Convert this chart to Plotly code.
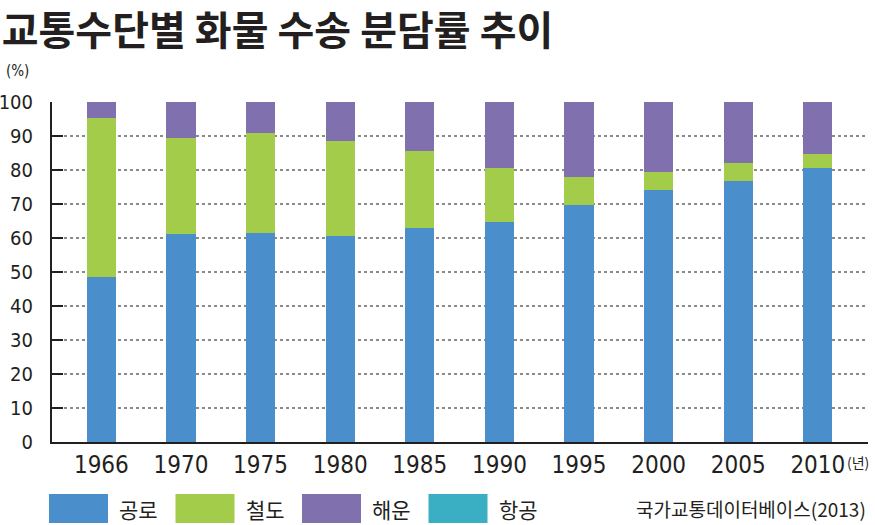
import plotly.graph_objects as go

# 연도별 화물 수송 분담률 (%)
years = ["1966", "1970", "1975", "1980", "1985", "1990", "1995", "2000", "2005", "2010"]
road = [48.5, 61.1, 61.4, 60.7, 62.8, 64.6, 69.8, 74.1, 76.8, 80.6]
rail = [46.7, 28.4, 29.6, 27.8, 22.7, 15.9, 8.2, 5.3, 5.4, 4.0]
sea = [4.8, 10.5, 9.0, 11.5, 14.5, 19.5, 22.0, 20.6, 17.8, 15.4]
air = [0.0, 0.0, 0.0, 0.0, 0.0, 0.0, 0.0, 0.0, 0.0, 0.0]  # 그림상 보이지 않을 만큼 작음

names = ["공로", "철도", "해운", "항공"]
colors = ["#4a8fcc", "#a3cc4b", "#8070ae", "#3aafc4"]
series = [road, rail, sea, air]

num_font = "DejaVu Sans Condensed, Liberation Sans Narrow, Liberation Sans, sans-serif"
kr_font = "Noto Sans CJK KR"
ink = "#231f20"

fig = go.Figure()
for name, vals, col in zip(names, series, colors):
    fig.add_trace(go.Bar(x=years, y=vals, name=name, marker_color=col,
                         marker_line_width=0, width=0.365))

fig.update_layout(
    barmode="stack",
    width=875, height=525,
    margin=dict(l=52, r=7, t=102, b=83, pad=0),
    paper_bgcolor="white", plot_bgcolor="white",
    showlegend=False,
    title=dict(text="<b>교통수단별 화물 수송 분담률 추이</b>",
               font=dict(family=kr_font, size=40, color=ink),
               xref="container", yref="container", x=0.002, y=0.968,
               xanchor="left", yanchor="top", pad=dict(l=0, t=0)),
)

fig.update_yaxes(range=[0, 100], dtick=10, showline=True, linecolor=ink, linewidth=2,
                 ticks="inside", ticklen=11, tickwidth=2, tickcolor=ink,
                 showgrid=True, gridcolor="#8a8a8a", griddash="dot", gridwidth=1.5,
                 zeroline=False, ticklabelstandoff=13, automargin=False,
                 tickfont=dict(family=num_font, size=20, color=ink))
fig.update_xaxes(range=[-0.62, 9.63], showline=True, linecolor=ink, linewidth=2,
                 ticks="", showgrid=False, automargin=False,
                 tickfont=dict(family=num_font, size=24, color=ink))

# 단위 표시
fig.add_annotation(text="(%)", xref="paper", yref="paper", x=-0.059, y=1.09,
                   xanchor="left", yanchor="middle", showarrow=False,
                   font=dict(family=num_font, size=15, color=ink))
fig.add_annotation(text="(년)", xref="paper", yref="paper", x=0.972, y=-0.058,
                   xanchor="left", yanchor="middle", showarrow=False,
                   font=dict(family=kr_font, size=14, color=ink))

# 범례 (큰 색상 박스)
for i, (name, col) in enumerate(zip(names, colors)):
    x0 = (49 + 126.5 * i - 52) / 816
    x1 = x0 + 59 / 816
    fig.add_shape(type="rect", xref="paper", yref="paper",
                  x0=x0, x1=x1, y0=-0.238, y1=-0.153,
                  fillcolor=col, line_width=0)
    fig.add_annotation(text=name, xref="paper", yref="paper",
                       x=x1 + 9 / 816, y=-0.196, xanchor="left", yanchor="middle",
                       showarrow=False, font=dict(family=kr_font, size=21, color=ink))

# 출처
fig.add_annotation(text="국가교통데이터베이스(2013)", xref="paper", yref="paper",
                   x=1.0, y=-0.196, xanchor="right", yanchor="middle", showarrow=False,
                   font=dict(family=kr_font, size=19, color=ink))

fig.write_html("out.html", config={"displayModeBar": False},
               post_script="document.body.style.margin='0';")
